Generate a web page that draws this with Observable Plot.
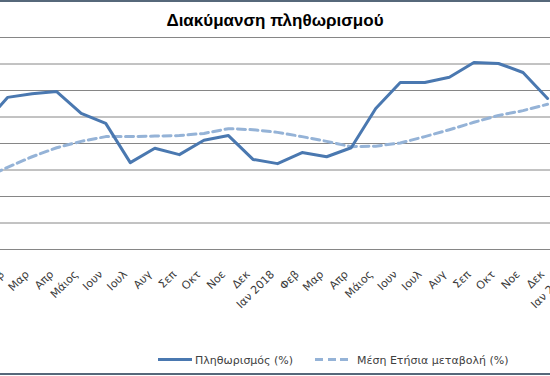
<!DOCTYPE html>
<html>
<head>
<meta charset="utf-8">
<script src="https://cdn.jsdelivr.net/npm/d3@7"></script>
<script src="https://cdn.jsdelivr.net/npm/@observablehq/plot@0.6"></script>
<style>
  html, body { margin: 0; padding: 0; background: #fff; overflow: hidden; }
  #chart { position: relative; width: 550px; height: 376px; overflow: hidden; background: #fff; }
  #chart svg { position: absolute; left: 0; top: 0; }
  .border { position: absolute; left: 0; width: 550px; height: 2px; background: #56687a; }
  #title { position: absolute; left: 0; width: 550px; top: 12.3px; text-align: center;
    font: bold 17px "Liberation Sans", Arial, sans-serif; line-height: 17px; color: #000; }
  .lg-text { position: absolute; font: 11px "DejaVu Sans", sans-serif; line-height: 11px; color: #404040; white-space: nowrap; }
  .lg-line { position: absolute; height: 3px; }
</style>
</head>
<body>
<div id="chart">
  <div class="border" style="top:0"></div>
  <div id="title">Διακύμανση πληθωρισμού</div>
  <div class="lg-line" style="left:158px; top:357.5px; width:34px; background:#4a78b0;"></div>
  <div class="lg-text" style="left:195px; top:354.5px;">Πληθωρισμός (%)</div>
  <div class="lg-line" style="left:315px; top:357.5px; width:34px; background:repeating-linear-gradient(90deg,#95b3d7 0 8px,transparent 8px 12.5px);"></div>
  <div class="lg-text" style="left:357px; top:354.5px;">Μέση Ετήσια μεταβολή (%)</div>
  <div class="border" style="top:373px"></div>
</div>
<script>
// Month labels (Jan 2017 .. Jan 2019); chart is cropped at both ends
const months = ["Ιαν 2017","Φεβ","Μαρ","Απρ","Μάιος","Ιουν","Ιουλ","Αυγ","Σεπ","Οκτ","Νοε","Δεκ",
                "Ιαν 2018","Φεβ","Μαρ","Απρ","Μάιος","Ιουν","Ιουλ","Αυγ","Σεπ","Οκτ","Νοε","Δεκ","Ιαν 2019"];
// Πληθωρισμός (%)
const inflation = [2.34, 2.87, 2.94, 2.98, 2.57, 2.38, 1.64, 1.91, 1.79, 2.06, 2.15, 1.70,
                   1.62, 1.83, 1.75, 1.92, 2.66, 3.15, 3.15, 3.25, 3.53, 3.51, 3.34, 2.85];
// Μέση Ετήσια μεταβολή (%)
const avgAnnual = [1.34, 1.55, 1.75, 1.92, 2.04, 2.13, 2.13, 2.14, 2.15, 2.19, 2.28, 2.26,
                   2.21, 2.13, 2.04, 1.94, 1.95, 2.01, 2.13, 2.26, 2.40, 2.53, 2.62, 2.74];
// gridline values
const yTicks = [0, 0.5, 1, 1.5, 2, 2.5, 3, 3.5, 4];

const s1 = inflation.map((v, i) => ({i, v}));
const s2 = avgAnnual.map((v, i) => ({i, v}));
const lbl = months.map((m, i) => ({i, m}));

const plot = Plot.plot({
  width: 550,
  height: 376,
  marginTop: 37,
  marginBottom: 127,
  marginLeft: 0,
  marginRight: 0,
  style: {background: "transparent", overflow: "hidden"},
  x: {type: "linear", domain: [0, months.length - 1], range: [-17.5, 571.6], axis: null},
  y: {domain: [0, 4], axis: null},
  marks: [
    Plot.ruleY(yTicks, {stroke: "#868686", strokeWidth: 1}),
    Plot.line(s2, {x: "i", y: "v", stroke: "#95b3d7", strokeWidth: 3, strokeDasharray: "8,4.5"}),
    Plot.line(s1, {x: "i", y: "v", stroke: "#4a78b0", strokeWidth: 3, strokeLinejoin: "round"}),
    Plot.text(lbl, {x: "i", text: "m", frameAnchor: "bottom", rotate: -45, textAnchor: "end",
      lineAnchor: "middle", dx: -5, dy: 23, fontSize: 11, fontFamily: "DejaVu Sans", fill: "#3a3a3a"})
  ]
});
document.getElementById("chart").insertBefore(plot, document.getElementById("title"));
</script>
</body>
</html>
